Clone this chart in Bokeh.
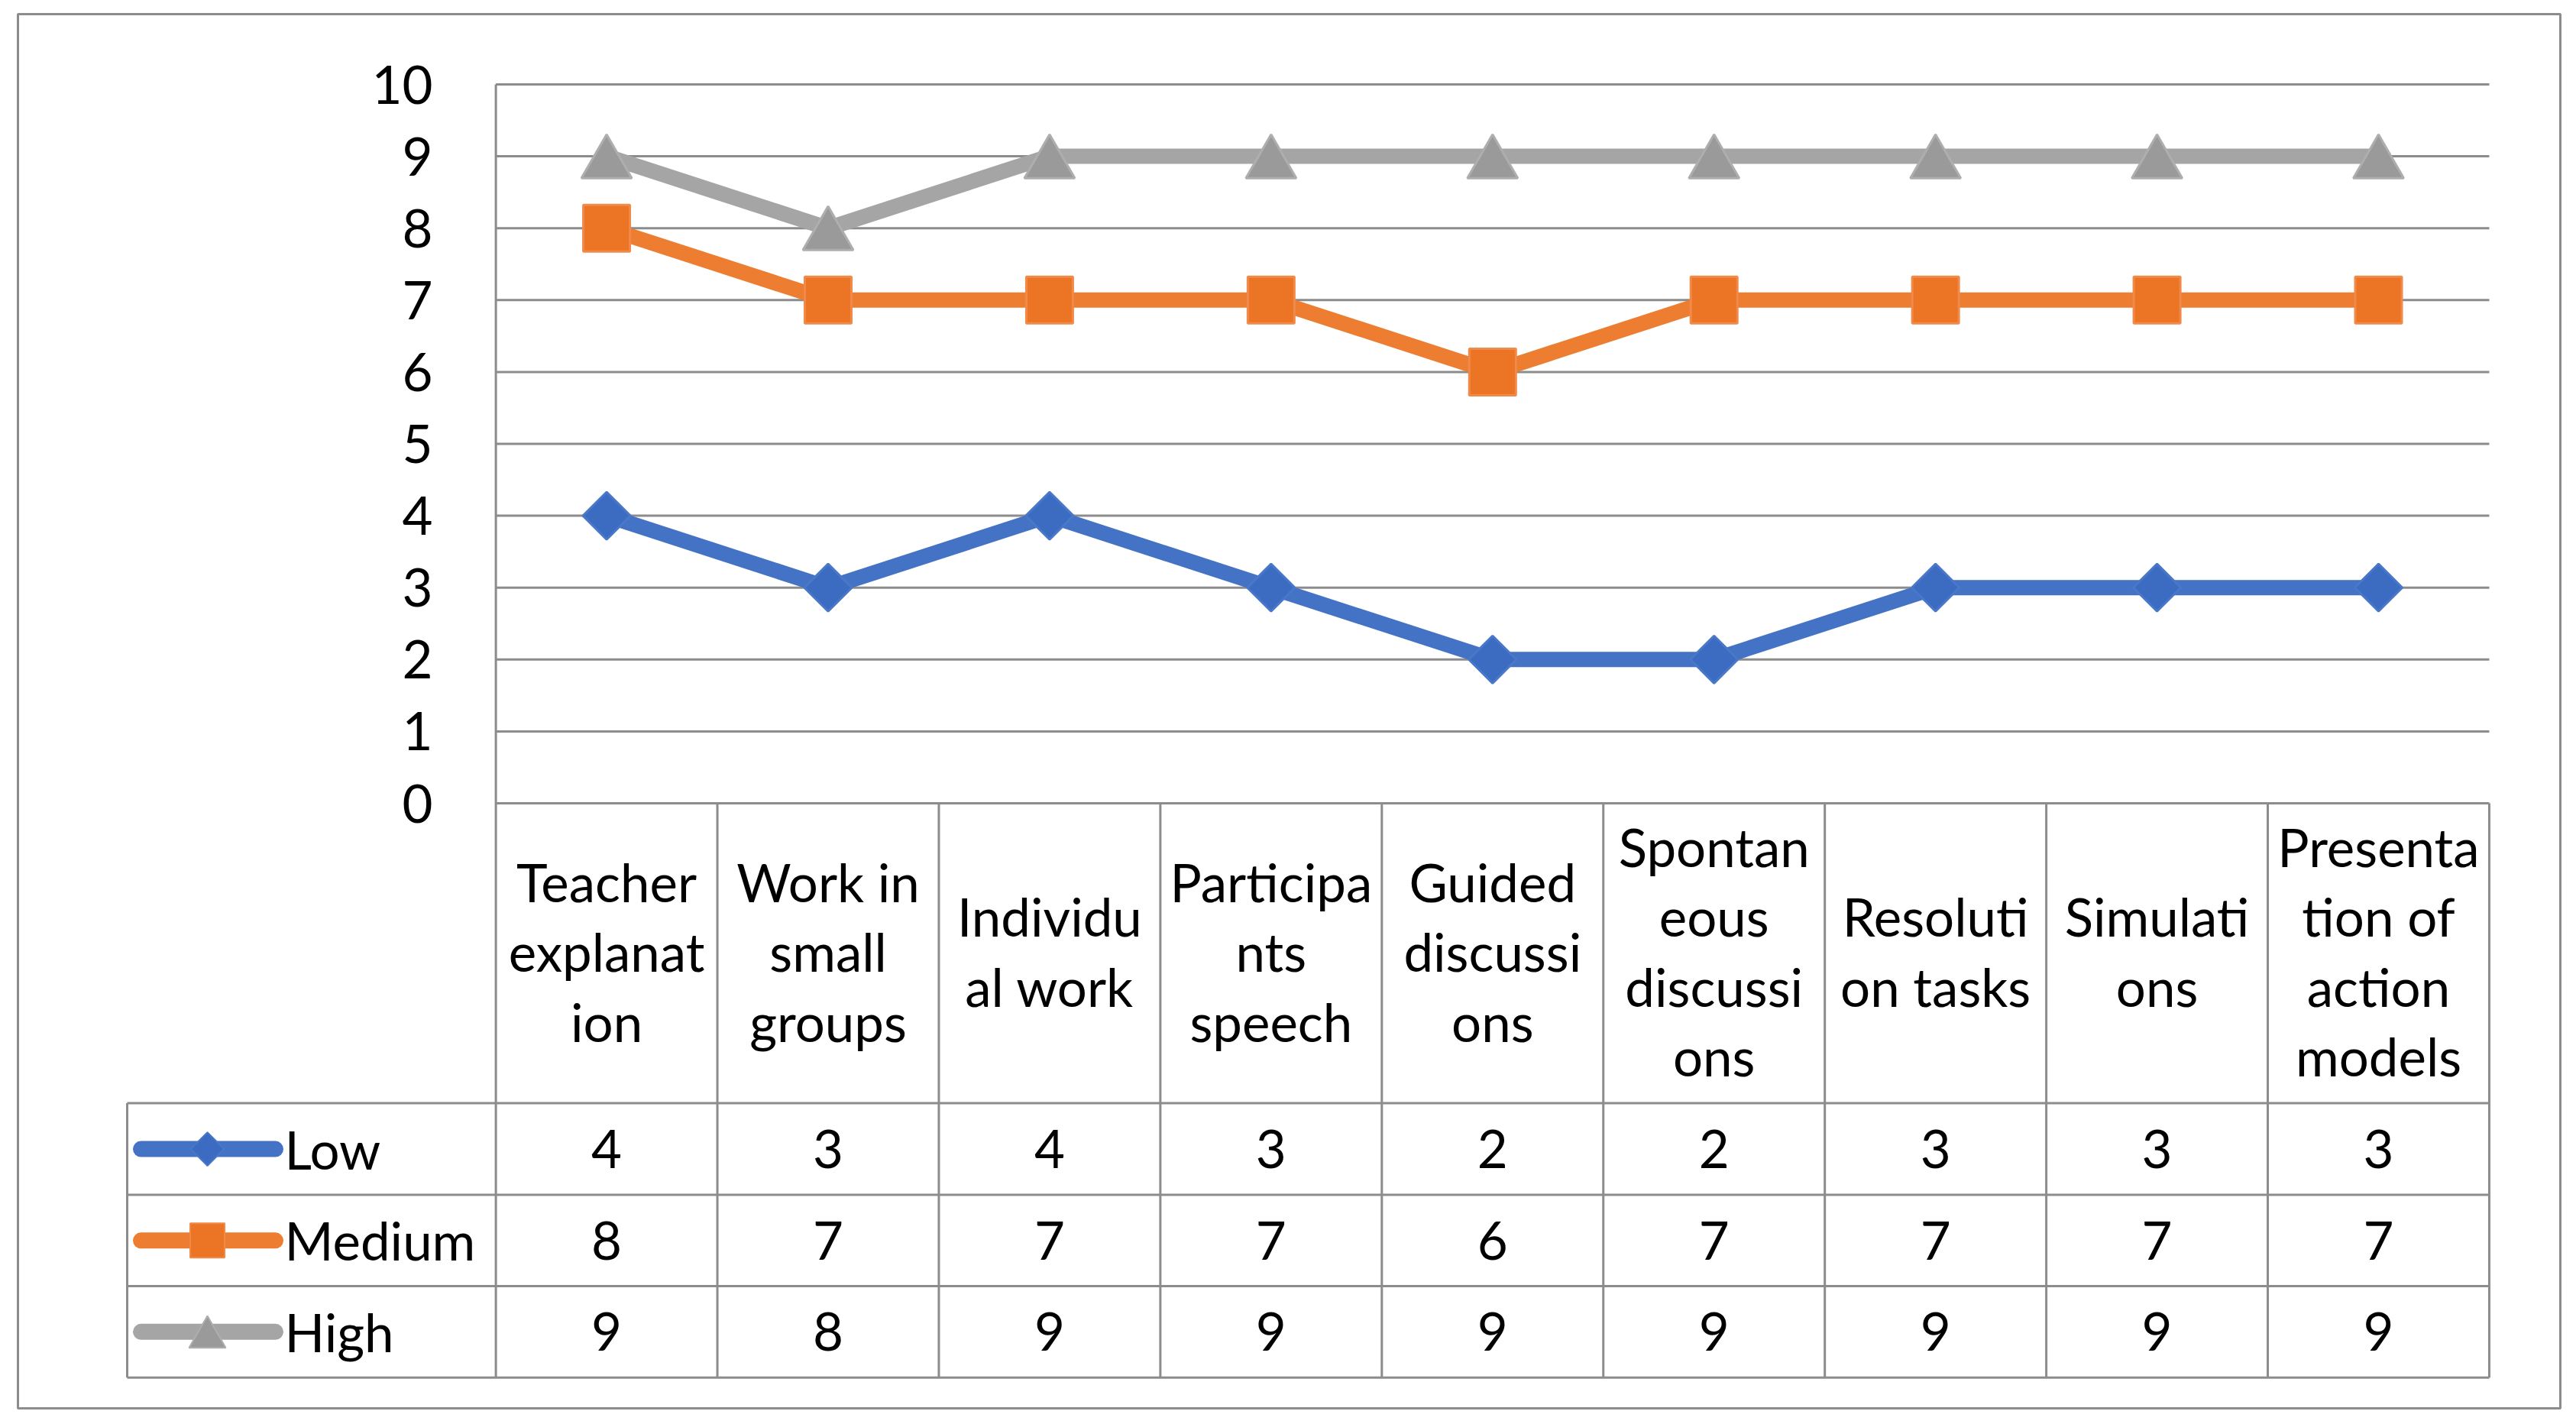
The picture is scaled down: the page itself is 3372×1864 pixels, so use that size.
import math
from bokeh.plotting import figure
from bokeh.models import Range1d
from bokeh.embed import file_html
from bokeh.resources import INLINE
from bokeh.core.properties import value

# ---------------- data ----------------
categories = [
    "Teacher\nexplanat\nion",
    "Work in\nsmall\ngroups",
    "Individu\nal work",
    "Participa\nnts\nspeech",
    "Guided\ndiscussi\nons",
    "Spontan\neous\ndiscussi\nons",
    "Resoluti\non tasks",
    "Simulati\nons",
    "Presenta\ntion of\naction\nmodels",
]
low = [4, 3, 4, 3, 2, 2, 3, 3, 3]
medium = [8, 7, 7, 7, 6, 7, 7, 7, 7]
high = [9, 8, 9, 9, 9, 9, 9, 9, 9]
series_names = ["Low", "Medium", "High"]
y_ticks = [0, 1, 2, 3, 4, 5, 6, 7, 8, 9, 10]

# ---------------- layout (page pixels) ----------------
PLOT_L = 648.6
COL_W = 289.93
Y0 = 1051.0
UNIT = 94.1
HEADER_BOTTOM = 1443.5
ROW_BOTTOMS = [1563.6, 1683.0, 1802.7]
LEGEND_L = 166.0
FRAME_L, FRAME_R, FRAME_T, FRAME_B = 23.0, 3351.0, 18.0, 1843.0
LINE_GAP = 91.5
HEADER_MID = 1245.0   # vertical centre of header text block
W, H = 3372, 1864

FONT = value("Lato")
FSIZE = value("69px")
GRID = "#8C8C8C"
COLORS = ["#4472C4", "#ED7D31", "#A5A5A5"]


def xd(px):
    return (px - PLOT_L) / COL_W


def yd(py):
    return (Y0 - py) / UNIT


n = len(categories)
xs = [i + 0.5 for i in range(n)]

p = figure(
    width=W, height=H,
    x_range=Range1d(xd(FRAME_L), xd(FRAME_R)),
    y_range=Range1d(yd(FRAME_B), yd(FRAME_T)),
    x_axis_location=None, y_axis_location=None,
    toolbar_location=None, output_backend="svg",
    min_border_left=int(FRAME_L), min_border_right=int(W - FRAME_R),
    min_border_top=int(FRAME_T), min_border_bottom=int(H - FRAME_B),
)
p.grid.visible = False
p.outline_line_color = GRID
p.outline_line_width = 3
p.background_fill_color = "white"
p.border_fill_color = "white"

# horizontal gridlines
p.segment(x0=[0] * len(y_ticks), x1=[n] * len(y_ticks), y0=y_ticks, y1=y_ticks,
          line_color=GRID, line_width=3)
# vertical axis line at left of plot area, down to table bottom
p.segment(x0=[0], x1=[0], y0=[max(y_ticks)], y1=[yd(ROW_BOTTOMS[-1])],
          line_color=GRID, line_width=3)
# table column separators
p.segment(x0=list(range(1, n + 1)), x1=list(range(1, n + 1)),
          y0=[0] * n, y1=[yd(ROW_BOTTOMS[-1])] * n, line_color=GRID, line_width=3)
p.segment(x0=[xd(LEGEND_L)], x1=[xd(LEGEND_L)], y0=[yd(HEADER_BOTTOM)],
          y1=[yd(ROW_BOTTOMS[-1])], line_color=GRID, line_width=3)
# table row separators
hy = [yd(HEADER_BOTTOM)] + [yd(b) for b in ROW_BOTTOMS]
p.segment(x0=[xd(LEGEND_L)] * len(hy), x1=[n] * len(hy), y0=hy, y1=hy,
          line_color=GRID, line_width=3)

# series lines
for vals, c in zip([low, medium, high], COLORS):
    p.line(xs, vals, line_color=c, line_width=20, line_join="round")

# markers
p.scatter(xs, low, marker="square", angle=math.pi / 4, size=44,
          fill_color="#3C6BC2", line_color="#4A78C8", line_width=3)
p.scatter(xs, medium, marker="square", size=61,
          fill_color="#EC7425", line_color="#F08A4A", line_width=3)
tri_size = 66
d = (0.866 * tri_size / 6) / UNIT
p.extra_y_ranges = {"tri": Range1d(yd(FRAME_B) + d, yd(FRAME_T) + d)}
p.scatter(xs, high, marker="triangle", size=tri_size, y_range_name="tri",
          fill_color="#9A9A9A", line_color="#AEAEAE", line_width=3)

# y tick labels
p.text(x=[xd(566)] * len(y_ticks), y=y_ticks,
       text=[str(t) for t in y_ticks], text_align="right", text_baseline="middle",
       text_font=FONT, text_font_size=FSIZE, text_color="black")

# header texts
hx, hyy, ht = [], [], []
for i, cat in enumerate(categories):
    lines = cat.split("\n")
    m = len(lines)
    for k, ln in enumerate(lines):
        hx.append(xs[i])
        hyy.append(yd(HEADER_MID + (k - (m - 1) / 2) * LINE_GAP))
        ht.append(ln)
p.text(x=hx, y=hyy, text=ht, text_align="center", text_baseline="middle",
       text_font=FONT, text_font_size=FSIZE, text_color="black")

# value rows + legend
row_tops = [HEADER_BOTTOM] + ROW_BOTTOMS[:-1]
markers = [("square", math.pi / 4, 31, "#3C6BC2", "#4A78C8", 0.0),
           ("square", 0.0, 45, "#EC7425", "#F08A4A", 0.0),
           ("triangle", 0.0, 48, "#9A9A9A", "#AEAEAE", 0.866 * 48 / 6)]
for r, (name, vals, c) in enumerate(zip(series_names, [low, medium, high], COLORS)):
    cy = (row_tops[r] + ROW_BOTTOMS[r]) / 2
    p.text(x=xs, y=[yd(cy)] * n, text=[str(v) for v in vals],
           text_align="center", text_baseline="middle",
           text_font=FONT, text_font_size=FSIZE, text_color="black")
    p.line([xd(184), xd(360)], [yd(cy), yd(cy)], line_color=c, line_width=21,
           line_cap="round")
    mk, ang, sz, fc, lc, off = markers[r]
    p.scatter([xd(271)], [yd(cy + off)], marker=mk, angle=ang, size=sz,
              fill_color=fc, line_color=lc, line_width=2)
    p.text(x=[xd(372)], y=[yd(cy)], text=[name], text_align="left",
           text_baseline="middle", text_font=FONT, text_font_size=FSIZE,
           text_color="black")

open("out.html", "w").write(file_html(p, INLINE))
